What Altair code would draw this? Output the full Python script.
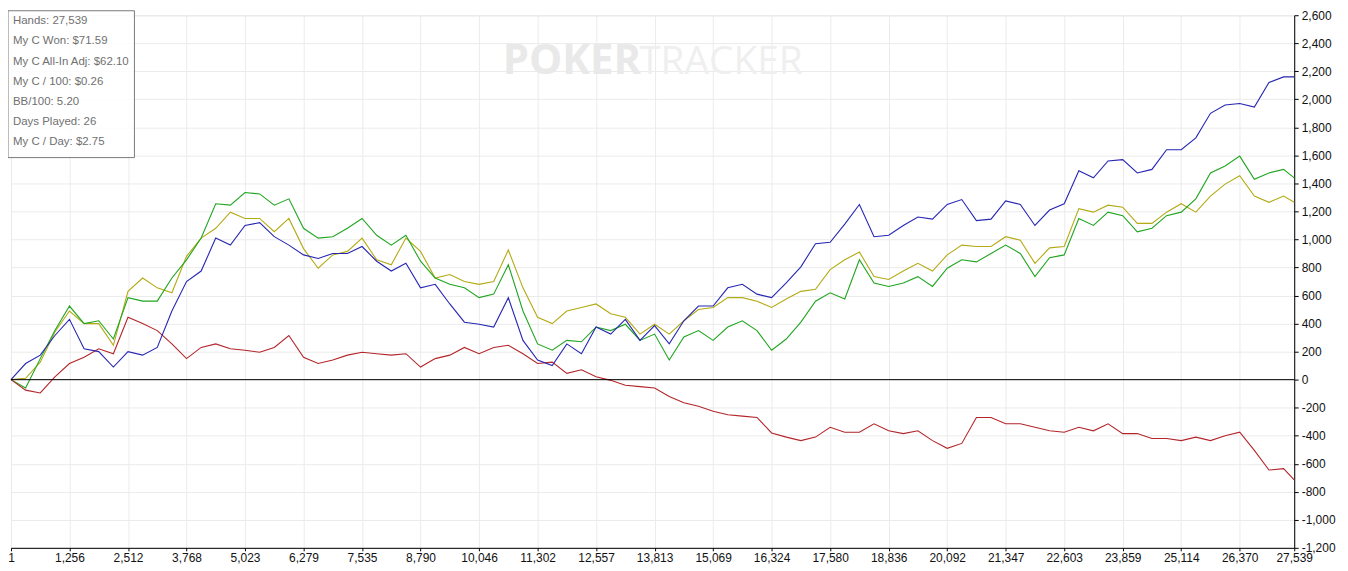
import altair as alt
import pandas as pd

# Hands (x) sampled along the graph
hands = [1, 315, 629, 943, 1256, 1570, 1884, 2198, 2512, 2826, 3140, 3454, 3768, 4082, 4395, 4709,
         5023, 5337, 5651, 5965, 6279, 6593, 6907, 7221, 7535, 7849, 8162, 8476, 8790, 9104, 9418, 9732,
         10046, 10360, 10674, 10988, 11302, 11616, 11929, 12243, 12557, 12871, 13185, 13499, 13813, 14127,
         14441, 14755, 15069, 15383, 15696, 16010, 16324, 16638, 16952, 17266, 17580, 17894, 18208, 18522,
         18836, 19150, 19463, 19777, 20092, 20405, 20719, 21033, 21347, 21661, 21975, 22289, 22603, 22917,
         23230, 23544, 23859, 24172, 24486, 24800, 25114, 25428, 25742, 26056, 26370, 26684, 26997, 27311, 27539]

blue = [0, 115, 175, 315, 430, 220, 200, 90, 200, 175, 230, 490, 700, 775, 1010, 960,
        1100, 1120, 1020, 960, 890, 865, 900, 900, 950, 845, 775, 830, 655, 680, 540, 410,
        395, 375, 585, 280, 140, 100, 255, 185, 375, 325, 430, 280, 385, 255,
        420, 525, 525, 655, 680, 610, 585, 690, 805, 970, 980, 1110, 1250, 1020,
        1030, 1100, 1160, 1145, 1250, 1285, 1135, 1145, 1275, 1250, 1100, 1210, 1255, 1490,
        1440, 1560, 1570, 1475, 1500, 1640, 1640, 1725, 1900, 1960, 1970, 1945, 2120, 2160, 2160]

green = [0, -60, 150, 350, 525, 400, 420, 290, 585, 560, 560, 725, 855, 1010, 1255, 1245,
         1335, 1325, 1245, 1290, 1080, 1010, 1020, 1080, 1150, 1030, 960, 1030, 845, 725, 680, 655,
         585, 610, 820, 490, 255, 210, 280, 270, 375, 350, 395, 280, 325, 140,
         305, 350, 280, 375, 420, 350, 210, 290, 410, 560, 620, 575, 855, 690,
         665, 690, 735, 665, 795, 855, 840, 900, 960, 900, 735, 870, 890, 1150,
         1100, 1195, 1170, 1055, 1080, 1170, 1195, 1290, 1475, 1525, 1595, 1430, 1475, 1500, 1440]

olive = [0, 10, 125, 340, 490, 400, 400, 245, 630, 725, 655, 620, 880, 1010, 1080, 1195,
         1150, 1150, 1055, 1150, 935, 795, 890, 915, 1010, 855, 820, 1010, 915, 725, 750, 700,
         680, 700, 925, 655, 445, 400, 490, 515, 540, 470, 445, 325, 395, 325,
         420, 500, 515, 585, 585, 560, 515, 575, 630, 645, 785, 855, 910, 735,
         715, 775, 830, 775, 890, 960, 950, 950, 1020, 995, 830, 940, 950, 1220,
         1195, 1245, 1230, 1115, 1115, 1195, 1255, 1195, 1310, 1395, 1455, 1310, 1265, 1310, 1265]

red = [0, -75, -95, 20, 115, 160, 220, 185, 445, 400, 350, 255, 150, 230, 255, 220,
       210, 195, 230, 315, 160, 115, 140, 175, 195, 185, 175, 185, 90, 150, 175, 230,
       185, 230, 245, 185, 115, 125, 45, 70, 20, -5, -40, -50, -60, -120,
       -165, -190, -225, -250, -260, -270, -380, -410, -435, -410, -340, -375, -375, -315,
       -365, -385, -365, -435, -490, -455, -270, -270, -315, -315, -340, -365, -375, -340,
       -365, -315, -385, -385, -420, -420, -435, -410, -435, -400, -375, -505, -645, -635, -715]

x_ticks = [1, 1256, 2512, 3768, 5023, 6279, 7535, 8790, 10046, 11302, 12557, 13813, 15069,
           16324, 17580, 18836, 20092, 21347, 22603, 23859, 25114, 26370, 27539]
y_ticks = list(range(-1200, 2601, 200))

info_lines = ["Hands: 27,539", "My C Won: $71.59", "My C All-In Adj: $62.10", "My C / 100: $0.26",
              "BB/100: 5.20", "Days Played: 26", "My C / Day: $2.75"]

series = [("All-In Adj", olive, "#b3aa14"), ("Won", green, "#1fa51f"),
          ("Non-Showdown", red, "#b3252a"), ("Showdown", blue, "#2626b4")]

W, H = 1289, 535
FONT = "Liberation Sans"

xscale = alt.Scale(domain=[1, 27539], nice=False, zero=False)
yscale = alt.Scale(domain=[-1200, 2600], nice=False, zero=False)

xaxis = alt.Axis(values=x_ticks, title=None, grid=True, gridColor="#ebebeb",
                 domainColor="black", tickColor="black", tickSize=3, labelColor="#111111",
                 labelFont=FONT, labelFontSize=12, labelFlush=False, labelOverlap=False, labelPadding=2,
                 labelExpr="format(datum.value, ',')")
yaxis = alt.Axis(values=y_ticks, orient="right", title=None, grid=True, gridColor="#ebebeb",
                 domainColor="black", tickColor="black", tickSize=4, labelColor="#111111",
                 labelFont=FONT, labelFontSize=12, labelFlush=False, labelOverlap=False, labelPadding=3,
                 labelExpr="replace(format(datum.value, ','), '\u2212', '-')")

layers = []

for name, vals, col in series:
    df = pd.DataFrame({"h": hands, "v": vals, "s": name})
    layers.append(alt.Chart(df).mark_line(color=col, strokeWidth=1.1, interpolate="linear").encode(
        x=alt.X("h:Q", scale=xscale, axis=xaxis),
        y=alt.Y("v:Q", scale=yscale, axis=yaxis)))

# zero line
zero_df = pd.DataFrame({"v": [0]})
zero = alt.Chart(zero_df).mark_rule(color="black", strokeWidth=1).encode(
    y=alt.Y("v:Q", scale=yscale, axis=yaxis))

# watermark
wm1 = pd.DataFrame({"t": ["POKER"]})
wm2 = pd.DataFrame({"t": ["TRACKER"]})
wmk1 = alt.Chart(wm1).mark_text(align="left", baseline="alphabetic", font="Open Sans",
                                fontSize=42, fontWeight="bold", color="#e9e9e9").encode(
    x=alt.value(494), y=alt.value(59), text="t:N")
wmk2 = alt.Chart(wm2).mark_text(align="left", baseline="alphabetic", font="Open Sans",
                                fontSize=39, fontWeight="normal", color="#efefef").encode(
    x=alt.value(631), y=alt.value(59), text="t:N")

# info box
box_df = pd.DataFrame({"a": [0]})
box = alt.Chart(box_df).mark_rect(fill="white", fillOpacity=0.85, stroke="#7a7a7a", strokeWidth=1).encode(
    x=alt.value(-3), x2=alt.value(124), y=alt.value(-4.5), y2=alt.value(143))
texts = []
for i, line in enumerate(info_lines):
    tdf = pd.DataFrame({"t": [line]})
    texts.append(alt.Chart(tdf).mark_text(align="left", baseline="middle", font=FONT, fontSize=11.5,
                                          color="#707070").encode(
        x=alt.value(2), y=alt.value(6 + 20.3 * i), text="t:N"))

chart = alt.layer(wmk1, wmk2, *layers, zero, box, *texts).properties(
    width=W, height=H,
    autosize=alt.AutoSizeParams(type="none"),
    padding={"left": 3, "top": 6, "right": 46, "bottom": 21}
).configure_view(stroke="black", strokeWidth=1).configure(background="white")

chart.save("out.html", embed_options={"renderer": "svg", "actions": False})
